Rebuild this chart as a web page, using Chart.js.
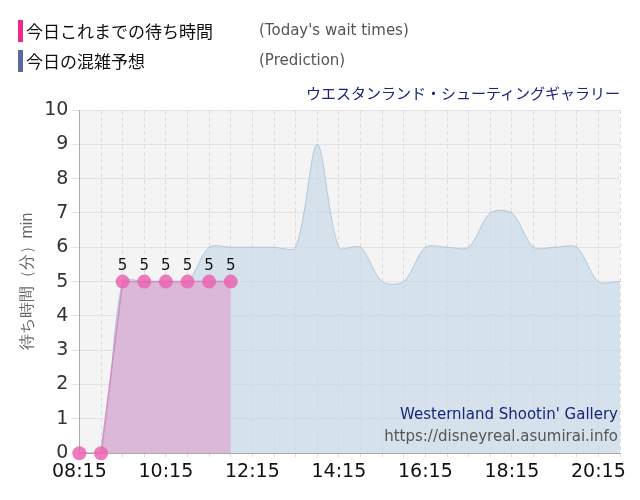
<!DOCTYPE html><html><head><meta charset="utf-8">
<script src="https://cdn.jsdelivr.net/npm/chart.js@4"></script>
<style>body{margin:0;width:640px;height:500px;font-family:"Noto Sans CJK JP",sans-serif;position:relative;background:#fff}
#c{position:absolute;left:0;top:0;z-index:0}
div{z-index:2}
.lg{position:absolute;left:18px;font-size:17px;color:#111;height:22px;line-height:22px}
.lg span.b{display:inline-block;width:5px;height:22px;vertical-align:top;margin-right:3px}
.en{position:absolute;left:259px;font-size:15px;color:#555;font-family:"DejaVu Sans",sans-serif}
</style></head><body>
<canvas id="c" width="640" height="500"></canvas>
<div class="lg" style="top:20px"><span class="b" style="background:#f0288c"></span>今日これまでの待ち時間</div>
<div class="en" style="top:21px">(Today's wait times)</div>
<div class="lg" style="top:50px"><span class="b" style="background:#5a6a9a"></span>今日の混雑予想</div>
<div class="en" style="top:51px">(Prediction)</div>
<div style="position:absolute;right:20px;top:82px;font-size:15px;color:#1a237e">ウエスタンランド・シューティングギャラリー</div>
<div style="position:absolute;right:22px;top:405px;font-size:15px;color:#1a237e;font-family:'DejaVu Sans'">Westernland Shootin' Gallery</div>
<div style="position:absolute;right:22px;top:427px;font-size:15px;color:#555;font-family:'DejaVu Sans'">https://disneyreal.asumirai.info</div>
<script>
const startMin=8*60+15;
const todayTimes=["08:15","08:45","09:15","09:45","10:15","10:45","11:15","11:45"];
const todayWait=[0,0,5,5,5,5,5,5];
const predTimes=["08:15","08:45","09:15","09:45","10:15","10:45","11:15","11:45","12:15","12:45","13:15","13:45","14:15","14:45","15:15","15:45","16:15","16:45","17:15","17:45","18:15","18:45","19:15","19:45","20:15","20:45"];
const predWait=[0,0,5,5,5,5,6,6,6,6,6,9,6,6,5,5,6,6,6,7,7,6,6,6,5,5];
const yTicks=[0,1,2,3,4,5,6,7,8,9,10];
const toM=t=>{const[a,b]=t.split(":").map(Number);return a*60+b-startMin;};
const fmt=v=>{const m=v+startMin;return String(Math.floor(m/60)).padStart(2,"0")+":"+String(m%60).padStart(2,"0");};
const labelPlug={id:'lbl',afterDatasetsDraw(ch){const ctx=ch.ctx;const meta=ch.getDatasetMeta(1);ctx.save();ctx.font="15px 'DejaVu Sans'";ctx.fillStyle="#111";ctx.textAlign="center";
meta.data.forEach((p,i)=>{if(todayWait[i]>0)ctx.fillText(todayWait[i],p.x,p.y-12);});ctx.restore();}};
const bgPlug={id:'bg',beforeDraw(ch){const a=ch.chartArea,ctx=ch.ctx;ctx.save();ctx.fillStyle="#f4f4f4";ctx.fillRect(a.left,a.top,a.right-a.left,a.bottom-a.top);ctx.restore();}};
new Chart(document.getElementById('c'),{type:'line',
data:{datasets:[
{data:predTimes.map((t,i)=>({x:toM(t),y:predWait[i]})),fill:'origin',backgroundColor:'rgba(200,218,232,0.7)',borderColor:'rgba(170,190,210,0.8)',borderWidth:1,pointRadius:0,tension:0.3,order:2},
{data:todayTimes.map((t,i)=>({x:toM(t),y:todayWait[i]})),fill:'origin',clip:false,backgroundColor:'rgba(220,170,210,0.75)',borderColor:'rgba(200,130,190,0.8)',borderWidth:1.5,pointRadius:7,pointBackgroundColor:'rgba(235,100,175,0.85)',pointBorderWidth:0,tension:0,order:1}
]},
options:{responsive:false,animation:false,layout:{padding:{top:110,right:20,left:14,bottom:14}},
plugins:{legend:{display:false},tooltip:{enabled:false}},
scales:{x:{type:'linear',min:0,max:750,afterBuildTicks:s=>{s.ticks=[];for(let v=0;v<=750;v+=30)s.ticks.push({value:v});},
ticks:{autoSkip:false,maxRotation:0,color:'#111',font:{size:19,family:'DejaVu Sans'},callback:v=>v%120===0?fmt(v):''},
grid:{color:'#dcdcdc',tickLength:4},border:{color:'#aaa',dash:[4,3]}},
y:{min:0,max:10,afterBuildTicks:s=>{s.ticks=yTicks.map(v=>({value:v}));},ticks:{color:'#333',font:{size:19,family:'DejaVu Sans'}},grid:{color:'#e2e2e2'},border:{color:'#aaa'},
title:{display:true,text:'待ち時間（分）min',color:'#666',font:{size:16}}}}},
plugins:[bgPlug,labelPlug]});
</script></body></html>
